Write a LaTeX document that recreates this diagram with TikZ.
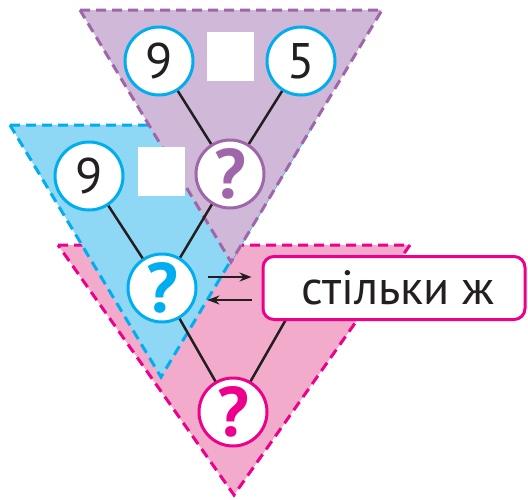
\documentclass[tikz,border=0pt]{standalone}
\usepackage{fontspec}
\setmainfont{PT Sans}
\usepackage{xcolor}
\usetikzlibrary{arrows.meta,positioning}
\definecolor{cBlue}{HTML}{00AEEF}
\definecolor{cPurple}{HTML}{A066AA}
\definecolor{cPink}{HTML}{EC008C}
\definecolor{cInk}{HTML}{231F20}

\begin{document}
\begin{tikzpicture}[x=1pt, y=-1pt,
    tri/.style={line width=3pt, dash pattern=on 10pt off 6pt},
    num/.style={circle, draw=cBlue, fill=white, line width=3pt, minimum size=68pt,
                inner sep=0pt, text=cInk, font=\fontsize{50}{50}\selectfont},
    ask/.style={circle, fill=white, line width=3pt, minimum size=68pt, inner sep=0pt,
                font=\fontsize{70}{70}\selectfont\bfseries},
    sq/.style={fill=white, minimum width=47pt, minimum height=49pt, inner sep=0pt},
    link/.style={draw=cInk, line width=2.5pt},
    hint/.style={draw=cInk, line width=2pt, -{Stealth[length=12pt, width=9pt]},
                 shorten <=10pt, shorten >=10pt},
    note/.style={draw=cPink, fill=white, line width=3pt, rounded corners=11pt,
                 minimum width=262pt, minimum height=63pt, inner sep=0pt,
                 text=cInk, font=\fontsize{48}{48}\selectfont},
  ]
  \definecolor{fBlue}{HTML}{8ED8F6}\definecolor{fPurple}{HTML}{D0B8D8}
  \definecolor{fPink}{HTML}{F3ABCB}
  \useasboundingbox (0,0) rectangle (528,499);

  % three triangles, back to front
  \draw[tri, draw=cPink, fill=fPink] (58,245) -- (410,245) -- (234,495) -- cycle;
  \draw[tri, draw=cBlue, fill=fBlue] (10,125) -- (312,125) -- (161,377) -- cycle;
  \draw[tri, draw=cPurple, fill=fPurple] (80,10) -- (382,10) -- (231,262) -- cycle;

  \node[num] (a1) at (159,61) {9};
  \node[sq] (s1) at (230,56) {};
  \node[num] (a2) at (301,61) {5};
  \node[ask, draw=cPurple, text=cPurple] (q1) at (230,174) {?};

  \node[num] (b1) at (89,176) {9};
  \node[sq] (s2) at (161,171) {};
  \node[ask, draw=cBlue, text=cBlue] (q2) at (162,288) {?};

  \node[ask, draw=cPink, text=cPink] (q3) at (233,412) {?};
  \coordinate (same) at (304,288);

  \draw[link] (a1) -- (q1);
  \draw[link] (a2) -- (q1);
  \draw[link] (b1) -- (q2);
  \draw[link] (q1) -- (q2);
  \draw[link] (q2) -- (q3);
  \draw[link] (q3) -- (same);

  \node[note, right=64pt of q2] (n1) {\hspace*{8pt}стільки ж};

  \draw[hint] ([yshift=11pt]q2.east) -- ([yshift=11pt]n1.west |- q2.east);
  \draw[hint] ([yshift=-12pt]n1.west |- q2.east) -- ([yshift=-12pt]q2.east);
\end{tikzpicture}
\end{document}
